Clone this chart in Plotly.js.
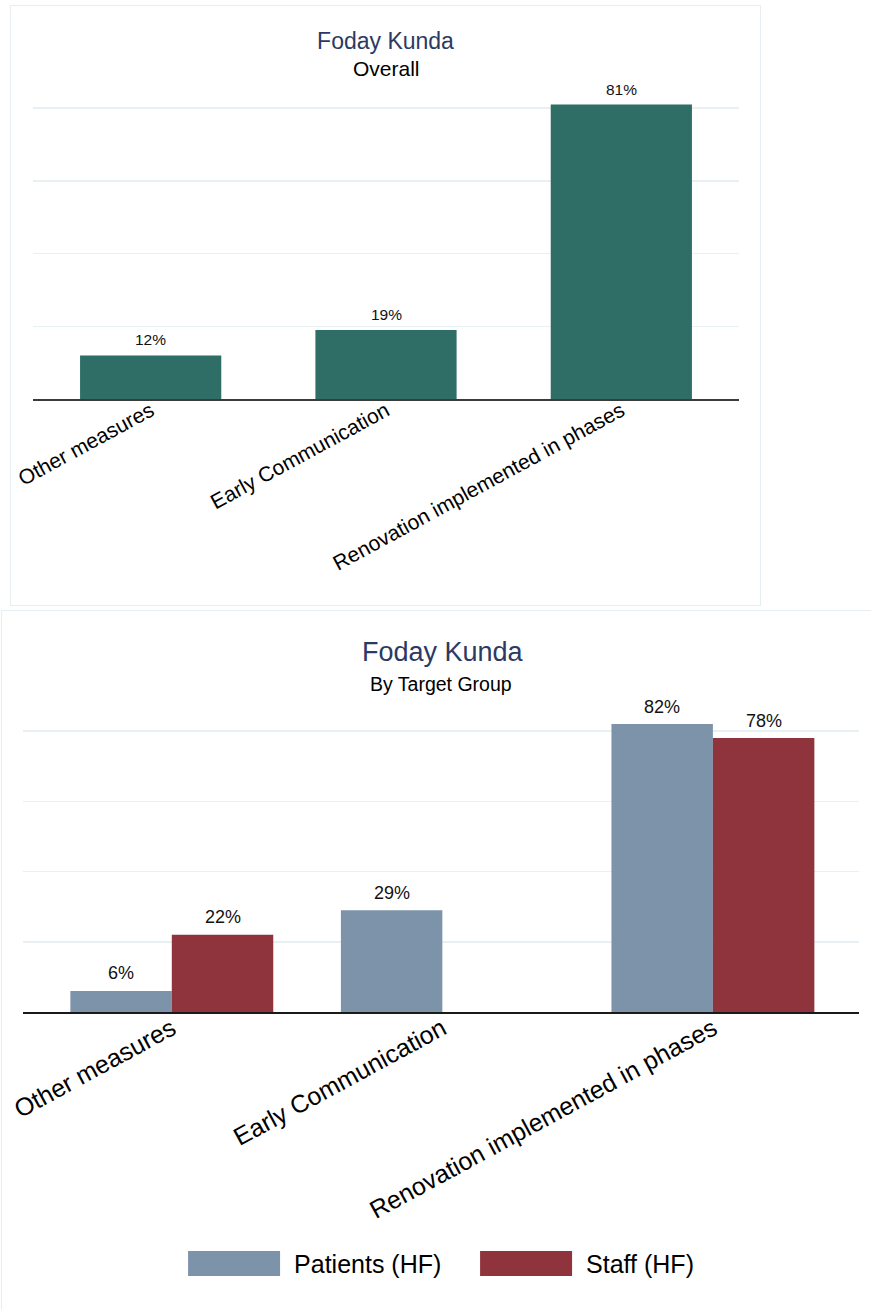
<!DOCTYPE html>
<html>
<head>
<meta charset="utf-8">
<script src="https://cdn.plot.ly/plotly-3.0.1.min.js"></script>
<style>
  html, body { margin: 0; padding: 0; background: #ffffff; }
  #c1 { position: absolute; left: 10px; top: 5px; width: 751px; height: 601px; box-sizing: border-box; border: 1px solid #e6eef1; }
  #c2 { position: absolute; left: 1px; top: 610px; width: 872px; height: 702px; box-sizing: border-box; border: 1px solid #e6eef1; }
</style>
</head>
<body>
<div id="c1"></div>
<div id="c2"></div>
<script>
// ---- data ----
const categories = ["Other measures", "Early Communication", "Renovation implemented in phases"];
const overallValues = [12, 19, 81];
const patientsValues = [6, 29, 82];
const staffValues = [22, null, 78];
const seriesNames = ["Patients (HF)", "Staff (HF)"];
const chartTitle = "Foday Kunda";
const subtitleTop = "Overall";
const subtitleBottom = "By Target Group";

const FONT = "Liberation Sans, Arial, sans-serif";
const TITLE_COLOR = "#2b3a64";
const GRID = "#e9f0f3";
const pct = v => v + "%";

// ---- top chart ----
const t1 = {
  type: "bar", x: categories, y: overallValues,
  marker: { color: "#2e6e66", line: { width: 0 } },
  hoverinfo: "skip", showlegend: false
};
const ann1 = overallValues.map((v, i) => ({
  x: i, y: v, xref: "x", yref: "y", text: pct(v), showarrow: false,
  yanchor: "middle", yshift: 15.5, font: { family: FONT, size: 15.5, color: "#111" }
}));
ann1.push({ text: subtitleTop, xref: "paper", yref: "paper", x: 0.5, y: 1 + 21 / 308, xanchor: "center", yanchor: "middle", showarrow: false, font: { family: FONT, size: 21, color: "#000" } });
const l1 = {
  width: 749, height: 599,
  margin: { l: 22, r: 21, t: 84, b: 206 },
  paper_bgcolor: "#ffffff", plot_bgcolor: "#ffffff",
  font: { family: FONT, color: "#000" },
  title: { text: chartTitle, font: { family: FONT, size: 23, color: TITLE_COLOR }, x: 0.5, xanchor: "center", y: 1 - 35 / 599, yref: "container", yanchor: "middle" },
  annotations: ann1,
  bargap: 0.4,
  xaxis: { type: "category", tickangle: -28.5, ticklabelstandoff: -10, tickfont: { family: FONT, size: 21, color: "#000" }, showline: true, linecolor: "#3a3a3a", linewidth: 1.5, ticks: "", showgrid: false, zeroline: false, range: [-0.5, 2.5] },
  yaxis: { range: [0, 85], tickvals: [20, 40, 60, 80], showticklabels: false, showgrid: true, gridcolor: GRID, gridwidth: 1.5, zeroline: false, showline: false, ticks: "" }
};

// ---- bottom chart ----
const BARGAP2 = 0.25;
const halfBar = (1 - BARGAP2) / 4;
const t2a = {
  type: "bar", name: seriesNames[0], x: categories, y: patientsValues,
  marker: { color: "#7d93aa", line: { width: 0 } }, hoverinfo: "skip"
};
const t2b = {
  type: "bar", name: seriesNames[1], x: categories, y: staffValues,
  marker: { color: "#8f343c", line: { width: 0 } }, hoverinfo: "skip"
};
const ann2 = [];
[[patientsValues, -halfBar], [staffValues, halfBar]].forEach(([vals, off]) => {
  vals.forEach((v, i) => {
    if (v == null) return;
    ann2.push({ x: i + off, y: v, xref: "x", yref: "y", text: pct(v), showarrow: false,
      yanchor: "middle", yshift: 17.5, font: { family: FONT, size: 18, color: "#111" } });
  });
});
ann2.push({ text: subtitleBottom, xref: "paper", yref: "paper", x: 0.5, y: 1 + 19 / 308, xanchor: "center", yanchor: "middle", showarrow: false, font: { family: FONT, size: 19.5, color: "#000" } });
const l2 = {
  width: 870, height: 700,
  margin: { l: 21, r: 13, t: 92, b: 299 },
  paper_bgcolor: "#ffffff", plot_bgcolor: "#ffffff",
  font: { family: FONT, color: "#000" },
  title: { text: chartTitle, font: { family: FONT, size: 27, color: TITLE_COLOR }, x: 0.506, xanchor: "center", y: 1 - 41 / 700, yref: "container", yanchor: "middle" },
  annotations: ann2,
  barmode: "group", bargap: BARGAP2, bargroupgap: 0,
  showlegend: true,
  legend: { orientation: "h", x: 0.53, xanchor: "center", y: -251 / 308, yanchor: "middle", font: { family: FONT, size: 25, color: "#000" }, itemwidth: 110, entrywidth: 167, bgcolor: "rgba(0,0,0,0)" },
  xaxis: { type: "category", tickangle: -28.5, ticklabelstandoff: -9, tickfont: { family: FONT, size: 25, color: "#000" }, showline: true, linecolor: "#1a1a1a", linewidth: 1.5, ticks: "", showgrid: false, zeroline: false, range: [-0.55, 2.54] },
  yaxis: { range: [0, 88], tickvals: [20, 40, 60, 80], showticklabels: false, showgrid: true, gridcolor: GRID, gridwidth: 1.5, zeroline: false, showline: false, ticks: "" }
};

const cfg = { displayModeBar: false, staticPlot: true };
Plotly.newPlot("c1", [t1], l1, cfg);
Plotly.newPlot("c2", [t2a, t2b], l2, cfg).then(function (gd) {
  // widen the legend swatches to wide rectangles
  gd.querySelectorAll(".legend .legendpoints path").forEach(function (p) {
    p.setAttribute("d", "M46,12.5H-46V-12.5H46Z");
    p.style.strokeWidth = "0";
  });
});
</script>
</body>
</html>
